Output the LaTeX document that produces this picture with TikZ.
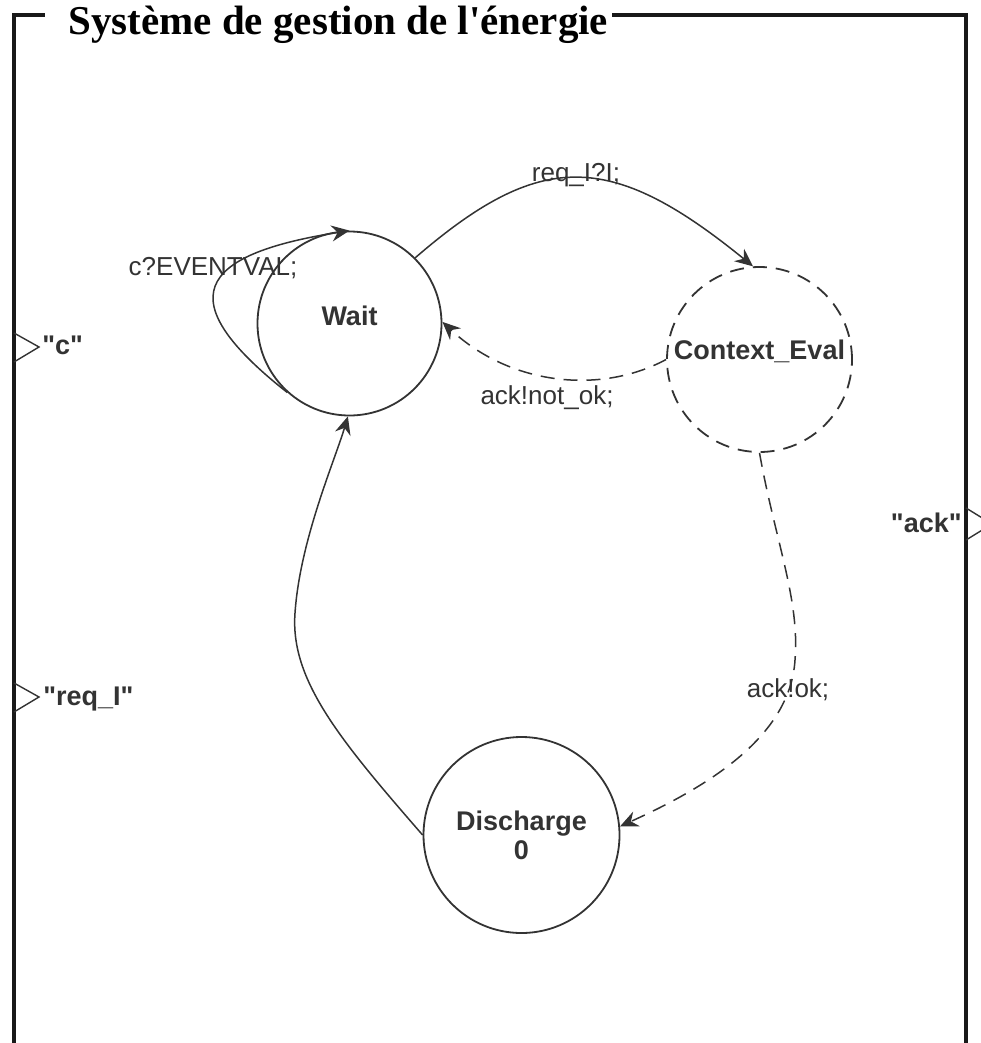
\documentclass[tikz,border=0pt]{standalone}
\usepackage{fontspec}
\setmainfont[Ligatures=TeXOff]{Liberation Sans}
\newfontfamily\titrefont[Ligatures=TeXOff]{Liberation Serif}
\usetikzlibrary{arrows.meta}
\definecolor{trait}{HTML}{333333}

\begin{document}
\begin{tikzpicture}[x=0.5pt,y=-0.5pt,
    etat/.style={circle, draw=trait, line width=0.9pt, minimum size=92pt, inner sep=0pt},
    nom/.style={font=\bfseries\fontsize{13.5}{14.5}\selectfont, text=trait, inner sep=0pt, align=center},
    trans/.style={draw=trait, line width=0.75pt, -{Stealth[length=9pt, width=8pt, inset=3pt]}},
    pointille/.style={dash pattern=on 7pt off 4.5pt},
    garde/.style={font=\fontsize{13}{15}\selectfont, text=trait, inner sep=0pt},
    port/.style={font=\bfseries\fontsize{13.5}{15}\selectfont, text=trait, inner sep=0pt},
    cadre/.style={draw=black!90, line width=1.6pt}]

    \useasboundingbox (0,0) rectangle (980,1043);

    % cadre du système
    \node[font=\titrefont\bfseries\fontsize{20.5}{24}\selectfont, inner sep=0pt, anchor=base west] (titre) at (68,35) {Système de gestion de l'énergie};
    \draw[cadre] (14,1043) -- (14,15) -- (45,15);
    \draw[cadre] (612,15) -- (966,15) -- (966,1043);

    % ports
    \draw[trait, line width=0.7pt] (14,333) -- (39,347) -- (14,362);
    \node[port, anchor=west] (portc) at (42,345) {"c"};
    \draw[trait, line width=0.7pt] (14,683) -- (39,697) -- (14,712);
    \node[port, anchor=west] (portreq) at (43,699) {"req\_I"};
    \draw[trait, line width=0.7pt] (966,508) -- (992,524) -- (966,540);
    \node[port, anchor=east] (portack) at (962,523) {"ack"};

    % états
    \node[etat] (wait) at (349.5,323.5) {};
    \node[nom] (waitnom) at ([yshift=4pt]wait.center) {Wait};
    \node[etat, pointille, minimum size=92.5pt] (ctx) at (759.5,359.5) {};
    \node[nom] (ctxnom) at ([yshift=4pt]ctx.center) {Context\_Eval};
    \node[etat, nom, minimum size=98pt] (discharge) at (521.5,835) {Discharge\\0};

    % transitions
    \draw[trans] (wait.228) .. controls (170,300) and (195,255) .. (wait.90);
    \node[garde] (g1) at (213,268) {c?EVENTVAL;};

    \draw[trans] (wait.45) .. controls (540,150) and (610,150) .. (ctx.94);
    \node[garde] (g2) at (576,175) {req\_I?I;};

    \draw[trans, pointille] (ctx.180) .. controls (600,395) and (510,385) .. (wait.1);
    \node[garde] (g3) at (547,398) {ack!not\_ok;};

    \draw[trans, pointille] (ctx.270) .. controls (775,540) and (800,600) .. (795,660)
        .. controls (790,740) and (700,790) .. (discharge.5);
    \node[garde] (g4) at (788,690) {ack!ok;};

    \draw[trans] (discharge.180) .. controls (340,740) and (290,680) .. (295,613)
        .. controls (300,540) and (335,460) .. (wait.269);

\end{tikzpicture}
\end{document}
